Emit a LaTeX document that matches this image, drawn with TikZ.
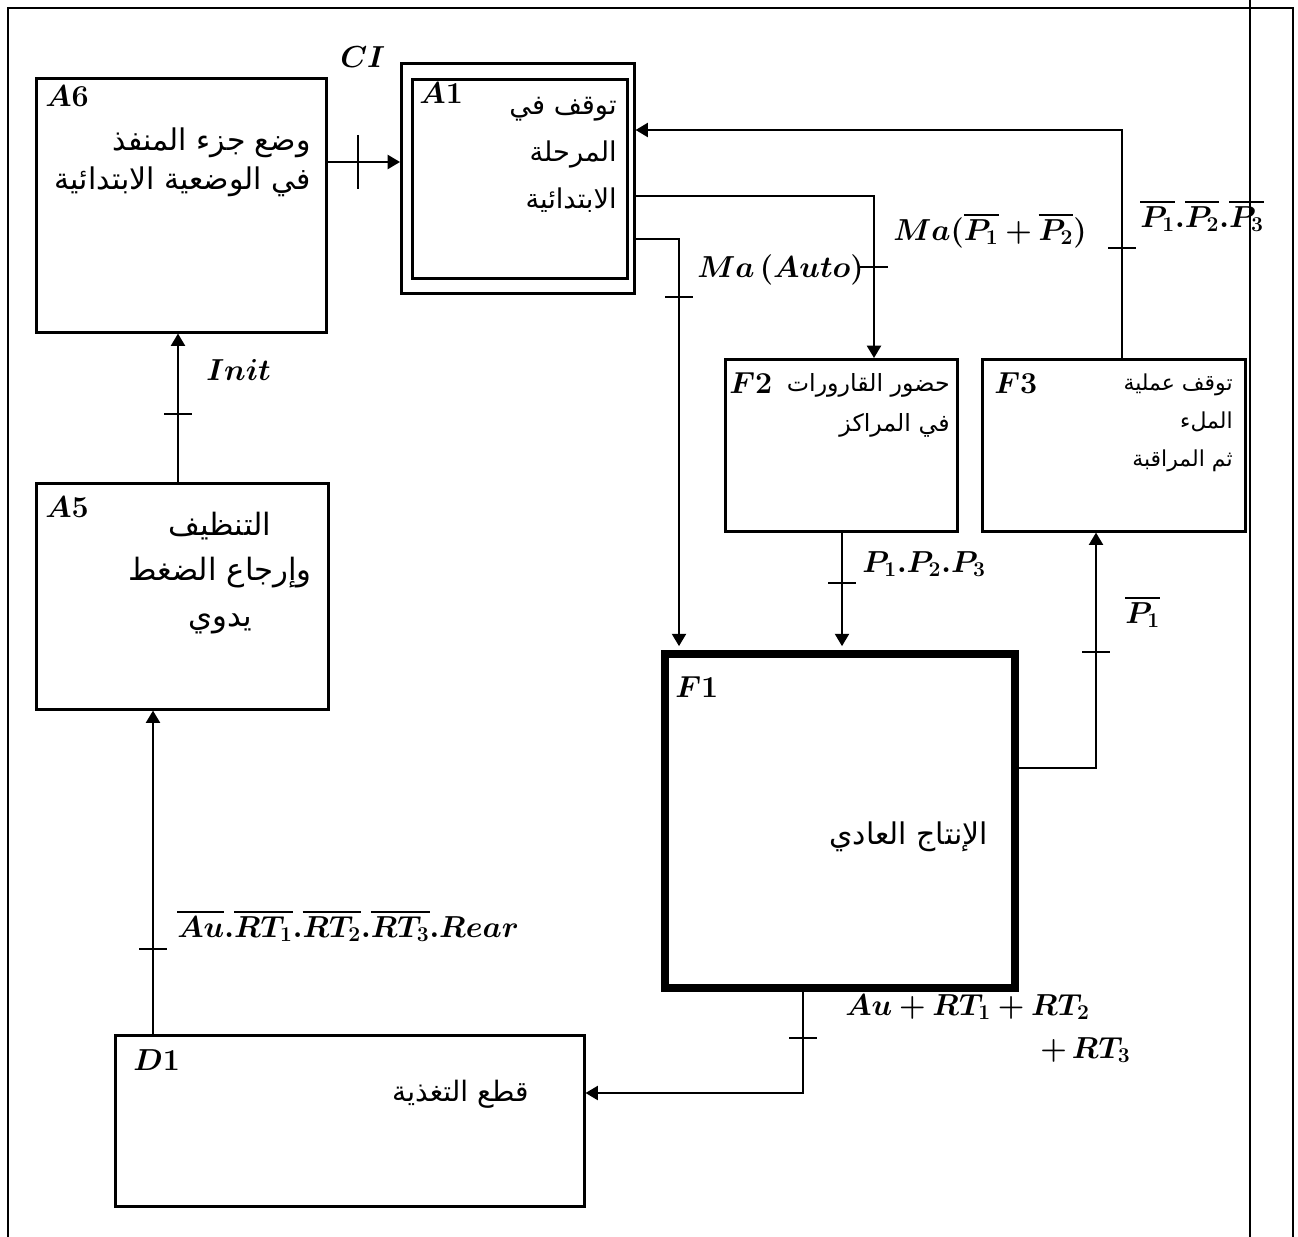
\documentclass[tikz,border=0pt]{standalone}
\usepackage{fontspec}
\usepackage{amsmath}
\usepackage{bm}
\usetikzlibrary{arrows.meta}
\newfontfamily\arabicfont[Script=Arabic]{DejaVu Sans}
\TeXXeTstate=1
\begin{document}
\begin{tikzpicture}[x=0.02cm,y=-0.02cm,
  box/.style={draw, line width=1.5pt, inner sep=0pt, anchor=north west},
  thickbox/.style={draw, line width=4.5pt, inner sep=0pt, anchor=north west},
  conn/.style={line width=1.1pt},
  arr/.style={conn, -{Triangle[length=7pt,width=8pt]}},
  frame/.style={line width=0.8pt},
  lab/.style={inner sep=0pt, anchor=base west, font=\fontsize{17}{20}\selectfont},
  ar/.style={inner sep=0pt, anchor=east, align=right},
  htick/.pic={\draw[line width=1.1pt] (-14,0) -- (14,0);},
  vtick/.pic={\draw[line width=1.1pt] (0,-27) -- (0,27);}
]
\useasboundingbox (0,0) rectangle (1298,1237);
% frame
\draw[frame] (8,1237) -- (8,8) -- (1293,8) -- (1293,1237);
\draw[frame] (1250,0) -- (1250,1237);

% boxes
\node[box, minimum width=5.80cm, minimum height=5.08cm] (A6) at (35,77) {};
\node[box, minimum width=4.66cm, minimum height=4.60cm] (A1o) at (400,62) {};
\node[box, minimum width=4.30cm, minimum height=3.98cm] (A1i) at (411,78) {};
\node[box, minimum width=5.84cm, minimum height=4.52cm] (A5) at (35,482) {};
\node[box, minimum width=9.38cm, minimum height=3.42cm] (D1) at (114,1034) {};
\node[box, minimum width=4.64cm, minimum height=3.44cm] (F2) at (724,358) {};
\node[box, minimum width=5.26cm, minimum height=3.44cm] (F3) at (981,358) {};
\node[thickbox, minimum width=7.00cm, minimum height=6.68cm] (F1) at (661,650) {};

% helper coordinates
\coordinate (y162) at (0,162);
\coordinate (y130) at (0,130);
\coordinate (y196) at (0,196);
\coordinate (y239) at (0,239);
\coordinate (y768) at (0,768);
\coordinate (y1093) at (0,1093);
\coordinate (x1122) at (1122,0);
\coordinate (x874) at (874,0);
\coordinate (x679) at (679,0);
\coordinate (x842) at (842,0);
\coordinate (x1096) at (1096,0);
\coordinate (x803) at (803,0);
\coordinate (x153) at (153,0);
\coordinate (x178) at (178,0);

% connectors
\draw[arr] (A6.east |- y162) -- (A1o.west |- y162);
\draw[arr] (F3.north -| x1122) |- (A1o.east |- y130);
\draw[arr] (A1o.east |- y196) -| (F2.north -| x874);
\draw[arr, shorten >=2.2pt] (A1o.east |- y239) -| (F1.north -| x679);
\draw[arr, shorten >=2.2pt] (F2.south -| x842) -- (F1.north -| x842);
\draw[arr] (F1.east |- y768) -| (F3.south -| x1096);
\draw[arr] (F1.south -| x803) |- (D1.east |- y1093);
\draw[arr] (D1.north -| x153) -- (A5.south -| x153);
\draw[arr] (A5.north -| x178) -- (A6.south -| x178);

% ticks
\pic at (358,162) {vtick};
\pic at (1122,248) {htick};
\pic at (874,267) {htick};
\pic at (679,297) {htick};
\pic at (842,583) {htick};
\pic at (1096,652) {htick};
\pic at (803,1038) {htick};
\pic at (153,949) {htick};
\pic at (178,414) {htick};

% step labels
\node[lab] (lCI) at (340,68) {$\bm{CI}$};
\node[lab] (lA6) at (45,107) {$\bm{A6}$};
\node[lab] (lA1) at (419,104) {$\bm{A1}$};
\node[lab] (lA5) at (45,517) {$\bm{A5}$};
\node[lab] (lD1) at (133,1070) {$\bm{D1}$};
\node[lab] (lF1) at (675,697) {$\bm{F1}$};
\node[lab] (lF2) at (729,393) {$\bm{F2}$};
\node[lab] (lF3) at (994,393) {$\bm{F3}$};

% transition labels
\node[lab] (lInit) at (206,380) {$\bm{Init}$};
\node[lab] (lAuto) at (697,277) {$\bm{Ma\,(Auto)}$};
\node[lab] (lMaP) at (893,240) {$\bm{Ma(}\overline{\bm{P_1}}\bm{+}\overline{\bm{P_2}}\bm{)}$};
\node[lab] (lPbar) at (1140,227) {$\overline{\bm{P_1}}\bm{.}\overline{\bm{P_2}}\bm{.}\overline{\bm{P_3}}$};
\node[lab] (lP) at (862,572) {$\bm{P_1.P_2.P_3}$};
\node[lab] (lP1) at (1125,623) {$\overline{\bm{P_1}}$};
\node[lab] (lRear) at (177,937) {$\overline{\bm{Au}}\bm{.}\overline{\bm{RT_1}}\bm{.}\overline{\bm{RT_2}}\bm{.}\overline{\bm{RT_3}}\bm{.Rear}$};
\node[lab] (lAu) at (845,1015) {$\bm{Au+RT_1+RT_2}$};
\node[lab] (lRT3) at (1040,1058) {$\bm{+\,RT_3}$};

% Arabic texts
\node[ar, font=\arabicfont\fontsize{17}{22}\selectfont] (tA6) at (311,162)
  {\beginR وضع جزء المنفذ\endR\\\beginR في الوضعية الابتدائية\endR};
\node[ar, font=\arabicfont\fontsize{15.5}{26.6}\selectfont] (tA1) at (617,155)
  {\beginR توقف في\endR\\\beginR المرحلة\endR\\\beginR الابتدائية\endR};
\node[inner sep=0pt, align=center, font=\arabicfont\fontsize{17.5}{26}\selectfont] (tA5) at (220,573)
  {\beginR التنظيف\endR\\\beginR وإرجاع الضغط\endR\\\beginR يدوي\endR};
\node[ar, font=\arabicfont\fontsize{16}{20}\selectfont] (tD1) at (529,1094)
  {\beginR قطع التغذية\endR};
\node[ar, font=\arabicfont\fontsize{17}{20}\selectfont] (tF1) at (988,837)
  {\beginR الإنتاج العادي\endR};
\node[ar, font=\arabicfont\fontsize{13.5}{22.7}\selectfont] (tF2) at (950,405)
  {\beginR حضور القارورات\endR\\\beginR في المراكز\endR};
\node[ar, font=\arabicfont\fontsize{12.5}{21.8}\selectfont] (tF3) at (1233,423)
  {\beginR توقف عملية\endR\\\beginR الملء\endR\\\beginR ثم المراقبة\endR};
\end{tikzpicture}
\end{document}
